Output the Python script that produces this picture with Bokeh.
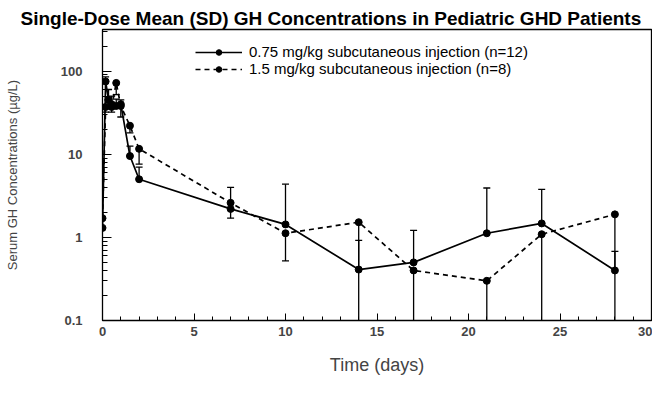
import numpy as np
from bokeh.plotting import figure
from bokeh.models import (Range1d, Legend, LegendItem, Title, FixedTicker,
                          SingleIntervalTicker)
from bokeh.embed import file_html
from bokeh.resources import INLINE

# ---- data ----
time_days = [0, 0.17, 0.33, 0.5, 0.75, 1, 1.5, 2, 7, 10, 14, 17, 21, 24, 28]
gh_075 = [1.3, 75, 45, 40, 38, 40, 9.5, 5.0, 2.2, 1.43, 0.41, 0.50, 1.12, 1.47, 0.40]
sd_075 = [0, 10, 15, 10, 8, 5, 3, 2, 1.8, 2.93, 0.51, 0.71, 2.8, 2.3, 0.28]
gh_15 = [1.7, 37, 45, 37, 72, 38, 22, 11.6, 2.6, 1.12, 1.52, 0.40, 0.30, 1.09, 1.89]
sd_15 = [0, 5, 10, 5, 20, 10, 4, 4, 0.9, 0.6, 1.6, 0.5, 0.35, 1.2, 2.0]

label_075 = "0.75 mg/kg subcutaneous injection (n=12)"
label_15 = "1.5 mg/kg subcutaneous injection (n=8)"
title_text = "Single-Dose Mean (SD) GH Concentrations in Pediatric GHD Patients"
x_label = "Time (days)"
y_label = "Serum GH Concentrations (\u00b5g/L)"
y_major = [0.1, 1, 10, 100]

FONT = "Liberation Sans"

p = figure(width=652, height=378, y_axis_type="log",
           x_range=Range1d(0, 30), y_range=Range1d(0.1, 316),
           output_backend="svg", toolbar_location=None,
           min_border_left=102, min_border_right=1,
           min_border_top=29, min_border_bottom=58,
           background_fill_color="white", border_fill_color="white")
p.title.visible = False
p.grid.visible = False
p.outline_line_color = "black"
p.outline_line_width = 1.3

t = np.array(time_days, dtype=float)

# 0.75 mg/kg: upward SD bars
m1 = np.array(gh_075); s1 = np.array(sd_075)
k1 = s1 > 0
top1 = m1 + s1
p.segment(x0=t[k1], y0=m1[k1], x1=t[k1], y1=top1[k1], line_color="black", line_width=1.3)
p.scatter(x=t[k1], y=top1[k1], marker="dash", size=7, line_color="black", line_width=1.3)

# 1.5 mg/kg: downward SD bars
m2 = np.array(gh_15); s2 = np.array(sd_15)
k2 = s2 > 0
low2 = m2 - s2
low2c = np.where(low2 > 0, low2, 1e-3)
p.segment(x0=t[k2], y0=m2[k2], x1=t[k2], y1=low2c[k2], line_color="black", line_width=1.3)
p.scatter(x=t[k2], y=low2c[k2], marker="dash", size=7, line_color="black", line_width=1.3)

l1 = p.line(t, m1, line_color="black", line_width=1.7)
c1 = p.scatter(t, m1, marker="circle", size=7, fill_color="black", line_color="black")
l2 = p.line(t, m2, line_color="black", line_width=1.7, line_dash="5 4")
c2 = p.scatter(t, m2, marker="circle", size=7, fill_color="black", line_color="black")

legend = Legend(items=[LegendItem(label=label_075, renderers=[l1, c1]),
                       LegendItem(label=label_15, renderers=[l2, c2])],
                location=(93, 243), glyph_width=47, glyph_height=14,
                label_height=14, label_standoff=7, spacing=0, padding=0,
                margin=0, border_line_color=None, background_fill_alpha=0,
                label_text_font=FONT, label_text_font_size="15px",
                label_text_color="black")
p.add_layout(legend, "center")

# axes
xa = p.xaxis[0]
xa.ticker = SingleIntervalTicker(interval=5, num_minor_ticks=5)
xa.major_tick_in = 7; xa.major_tick_out = 0
xa.minor_tick_in = 4; xa.minor_tick_out = 0
xa.major_label_standoff = 6
xa.major_label_text_font = FONT
xa.major_label_text_font_size = "13px"
xa.major_label_text_font_style = "bold"
xa.axis_label = x_label
xa.axis_label_text_font = FONT
xa.axis_label_text_font_size = "18px"
xa.axis_label_text_font_style = "normal"
xa.axis_label_standoff = 16
xa.axis_line_color = "black"; xa.major_tick_line_color = "black"; xa.minor_tick_line_color = "black"

ya = p.yaxis[0]
minor = [k * 10.0 ** e for e in range(-1, 3) for k in range(2, 10)]
ya.ticker = FixedTicker(ticks=y_major, minor_ticks=minor)
ya.major_label_overrides = {v: (str(v) if v < 1 else str(int(v))) for v in y_major}
ya.major_tick_in = 9; ya.major_tick_out = 0
ya.minor_tick_in = 5; ya.minor_tick_out = 0
ya.major_label_standoff = 20
ya.major_label_text_font = FONT
ya.major_label_text_font_size = "13px"
ya.major_label_text_font_style = "bold"
ya.axis_label = y_label
ya.axis_label_text_font = FONT
ya.axis_label_text_font_size = "13px"
ya.axis_label_text_font_style = "normal"
ya.axis_label_standoff = 38
ya.axis_line_color = "black"; ya.major_tick_line_color = "black"; ya.minor_tick_line_color = "black"

title = Title(text=title_text, align="left", offset=-82, standoff=2,
              text_font=FONT, text_font_size="19px", text_font_style="bold",
              text_color="black")
p.add_layout(title, "above")

open("out.html", "w").write(file_html(p, INLINE))
